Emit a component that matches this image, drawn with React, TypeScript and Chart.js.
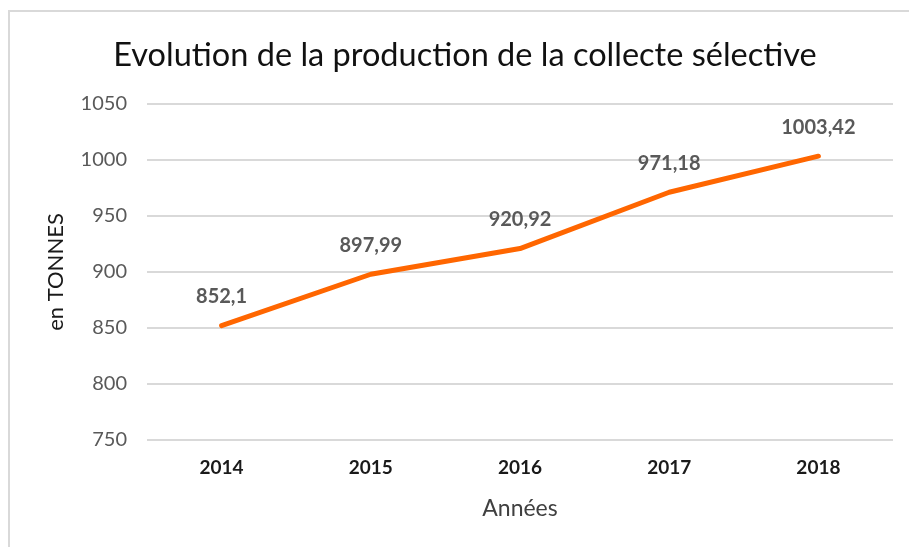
import React, { useEffect, useRef } from "react";
import { Chart, registerables } from "chart.js";

Chart.register(...registerables);

const categories = ["2014", "2015", "2016", "2017", "2018"];
const production = [852.1, 897.99, 920.92, 971.18, 1003.42];
const yTicks = [750, 800, 850, 900, 950, 1000, 1050];
const titleText = "Evolution de la production de la collecte sélective";
const xTitle = "Années";
const yTitle = "en TONNES";

const FONT = "Lato, 'Noto Sans', sans-serif";

const framePlugin = {
  id: "frame",
  beforeDraw(chart: any) {
    const ctx = chart.ctx;
    ctx.save();
    ctx.fillStyle = "#ffffff";
    ctx.fillRect(0, 0, chart.width, chart.height);
    ctx.fillStyle = "#d9d9d9";
    ctx.fillRect(8, 10, 2, chart.height - 10);
    ctx.fillRect(8, 10, chart.width - 8, 2);
    ctx.restore();
  },
};

const labelPlugin = {
  id: "pointLabels",
  afterDatasetsDraw(chart: any) {
    const ctx = chart.ctx;
    const meta = chart.getDatasetMeta(0);
    ctx.save();
    ctx.font = `bold 20px ${FONT}`;
    ctx.fillStyle = "#595959";
    ctx.textAlign = "center";
    ctx.textBaseline = "middle";
    meta.data.forEach((pt: any, i: number) => {
      const v = production[i];
      ctx.fillText(String(v).replace(".", ","), pt.x, pt.y - 29);
    });
    ctx.restore();
  },
};

export default function App() {
  const ref = useRef<HTMLCanvasElement>(null);
  useEffect(() => {
    if (!ref.current) return;
    const chart = new Chart(ref.current, {
      type: "line",
      data: {
        labels: categories,
        datasets: [
          {
            data: production,
            borderColor: "#ff6600",
            borderWidth: 5,
            borderCapStyle: "round",
            borderJoinStyle: "round",
            pointRadius: 0,
            pointHoverRadius: 0,
            tension: 0,
            fill: false,
          },
        ],
      },
      options: {
        animation: false,
        responsive: false,
        layout: { padding: { left: 37, right: 16, top: 0, bottom: 0 } },
        plugins: {
          legend: { display: false },
          tooltip: { enabled: false },
          title: {
            display: true,
            text: titleText,
            color: "#111111",
            font: { family: FONT, size: 32.5, weight: "normal" },
            padding: { top: 35.7, bottom: 29.3 },
          },
        },
        scales: {
          x: {
            type: "category",
            offset: true,
            grid: { display: false, drawTicks: false },
            border: { display: false },
            ticks: {
              color: "#1a1a1a",
              font: { family: FONT, size: 19, weight: "bold" },
              padding: 16.6,
            },
            title: {
              display: true,
              text: xTitle,
              color: "#404040",
              font: { family: FONT, size: 23 },
              padding: { top: 0, bottom: 25 },
            },
            afterFit(scale: any) {
              scale.height = 107;
            },
          },
          y: {
            min: 750,
            max: 1050,
            afterBuildTicks(scale: any) {
              scale.ticks = yTicks.map((v) => ({ value: v }));
            },
            grid: { color: "#d9d9d9", lineWidth: 2, drawTicks: false },
            border: { display: false },
            ticks: {
              color: "#595959",
              font: { family: FONT, size: 20 },
              padding: 20,
              callback: (v: any) => String(v),
            },
            title: {
              display: true,
              text: yTitle,
              color: "#1a1a1a",
              font: { family: FONT, size: 22 },
              padding: { top: 5.8, bottom: 0 },
            },
            afterFit(scale: any) {
              scale.width = 110;
            },
          },
        },
      },
      plugins: [framePlugin, labelPlugin],
    });
    return () => chart.destroy();
  }, []);
  return (
    <div style={{ position: "fixed", left: 0, top: 0, width: 909, height: 547 }}>
      <canvas ref={ref} width={909} height={547} />
    </div>
  );
}
